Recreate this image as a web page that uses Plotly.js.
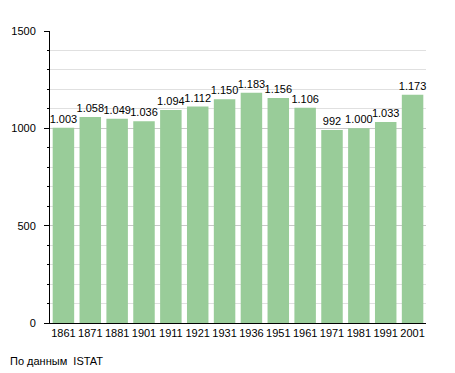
<!DOCTYPE html>
<html>
<head>
<meta charset="utf-8">
<script src="https://cdn.plot.ly/plotly-3.0.1.min.js"></script>
<style>html,body{margin:0;padding:0;background:#fff;}#chart{width:455px;height:373px;}</style>
</head>
<body>
<div id="chart"></div>
<script>
const years = ["1861","1871","1881","1901","1911","1921","1931","1936","1951","1961","1971","1981","1991","2001"];
const population = [1003,1058,1049,1036,1094,1112,1150,1183,1156,1106,992,1000,1033,1173];
const yTicks = [0,500,1000,1500];
const sourceNote = "По данным  ISTAT";

const trace = {
  type: 'bar',
  x: years,
  y: population,
  marker: {color: '#99cc99'},
  texttemplate: '%{y:,}',
  textposition: 'outside',
  constraintext: 'none',
  textfont: {family: 'Liberation Sans, Arial, sans-serif', size: 11, color: '#000'},
  cliponaxis: false,
  hoverinfo: 'none'
};

const layout = {
  width: 455, height: 373,
  margin: {l: 50, r: 29, t: 31, b: 50},
  separators: ',.',
  paper_bgcolor: '#fff', plot_bgcolor: '#fff',
  bargap: 0.2,
  showlegend: false,
  font: {family: 'Liberation Sans, Arial, sans-serif', size: 11, color: '#000'},
  xaxis: {
    type: 'category',
    showline: true, linecolor: '#000', linewidth: 1,
    ticks: '', showgrid: false,
    tickfont: {size: 11, color: '#000'},
    fixedrange: true
  },
  yaxis: {
    range: [0, 1500],
    tickvals: yTicks,
    ticktext: yTicks.map(String),
    showline: true, linecolor: '#000', linewidth: 1,
    ticks: 'outside', ticklen: 5, tickcolor: '#000',
    ticklabelstandoff: 6,
    showgrid: true, gridcolor: '#c8c8c8', gridwidth: 1,
    zeroline: false,
    tickfont: {size: 11, color: '#000'},
    minor: {dtick: 100, ticks: 'outside', ticklen: 2, tickcolor: '#000', showgrid: true, gridcolor: '#e0e0e0'},
    fixedrange: true
  },
  annotations: [{
    text: sourceNote,
    xref: 'paper', yref: 'paper',
    x: -42/376, y: -38/292,
    xanchor: 'left', yanchor: 'middle',
    showarrow: false,
    font: {size: 11, color: '#000'}
  }]
};

Plotly.newPlot('chart', [trace], layout, {displayModeBar: false, staticPlot: true});
</script>
</body>
</html>
